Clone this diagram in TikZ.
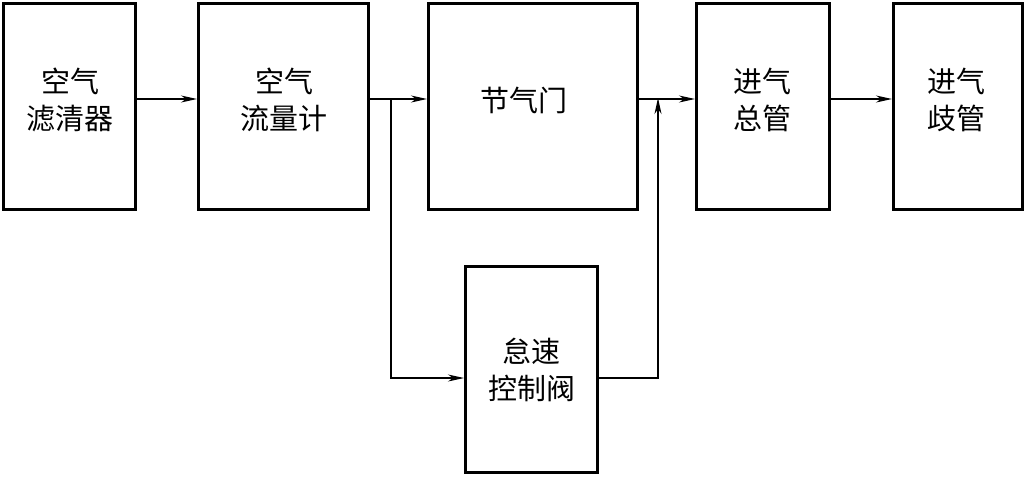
\documentclass[tikz,border=0pt]{standalone}
\usepackage{fontspec}
\newfontfamily\cjk{Noto Sans CJK SC}
\usetikzlibrary{arrows.meta}
\begin{document}
\begin{tikzpicture}[x=1pt,y=-1pt,
  blk/.style={draw=black,line width=3pt,rectangle,inner sep=0pt},
  lbl/.style={font=\cjk\fontsize{29}{37}\selectfont,align=center,inner sep=0pt},
  conn/.style={draw=black,line width=1.2pt},
  arr/.style={conn,-{Stealth[length=16pt,width=7pt,inset=5pt]}}]
\useasboundingbox (0,0) rectangle (1027,477);
\node[blk,minimum width=132pt,minimum height=206pt] (b1) at (69.5,106.5) {};
\node[blk,minimum width=170pt,minimum height=206pt] (b2) at (283.5,106.5) {};
\node[blk,minimum width=209pt,minimum height=206pt] (b3) at (533,106.5) {};
\node[blk,minimum width=133pt,minimum height=206pt] (b4) at (763,106.5) {};
\node[blk,minimum width=129pt,minimum height=206pt] (b5) at (958,106.5) {};
\node[blk,minimum width=132pt,minimum height=206pt] (b6) at (531.5,369.5) {};
\node[lbl] (t1) at (70,100) {空气\\滤清器};
\node[lbl] (t2) at (284,100) {空气\\流量计};
\node[lbl] (t3) at (524,100) {节气门};
\node[lbl] (t4) at (762,100) {进气\\总管};
\node[lbl] (t5) at (956,100) {进气\\歧管};
\node[lbl] (t6) at (531.5,370) {怠速\\控制阀};
\coordinate (row) at (0,99);
\coordinate (low) at (0,378);
\coordinate (br) at (391,99);
\coordinate (mg) at (658,99);
\draw[arr] (b1.east |- row) -- (b2.west |- row);
\draw[arr] (b2.east |- row) -- (b3.west |- row);
\draw[arr] (b3.east |- row) -- (b4.west |- row);
\draw[arr] (b4.east |- row) -- (b5.west |- row);
\draw[arr] (br) |- (b6.west |- low);
\draw[arr] (b6.east |- low) -| ([yshift=1pt]mg);
\end{tikzpicture}
\end{document}
